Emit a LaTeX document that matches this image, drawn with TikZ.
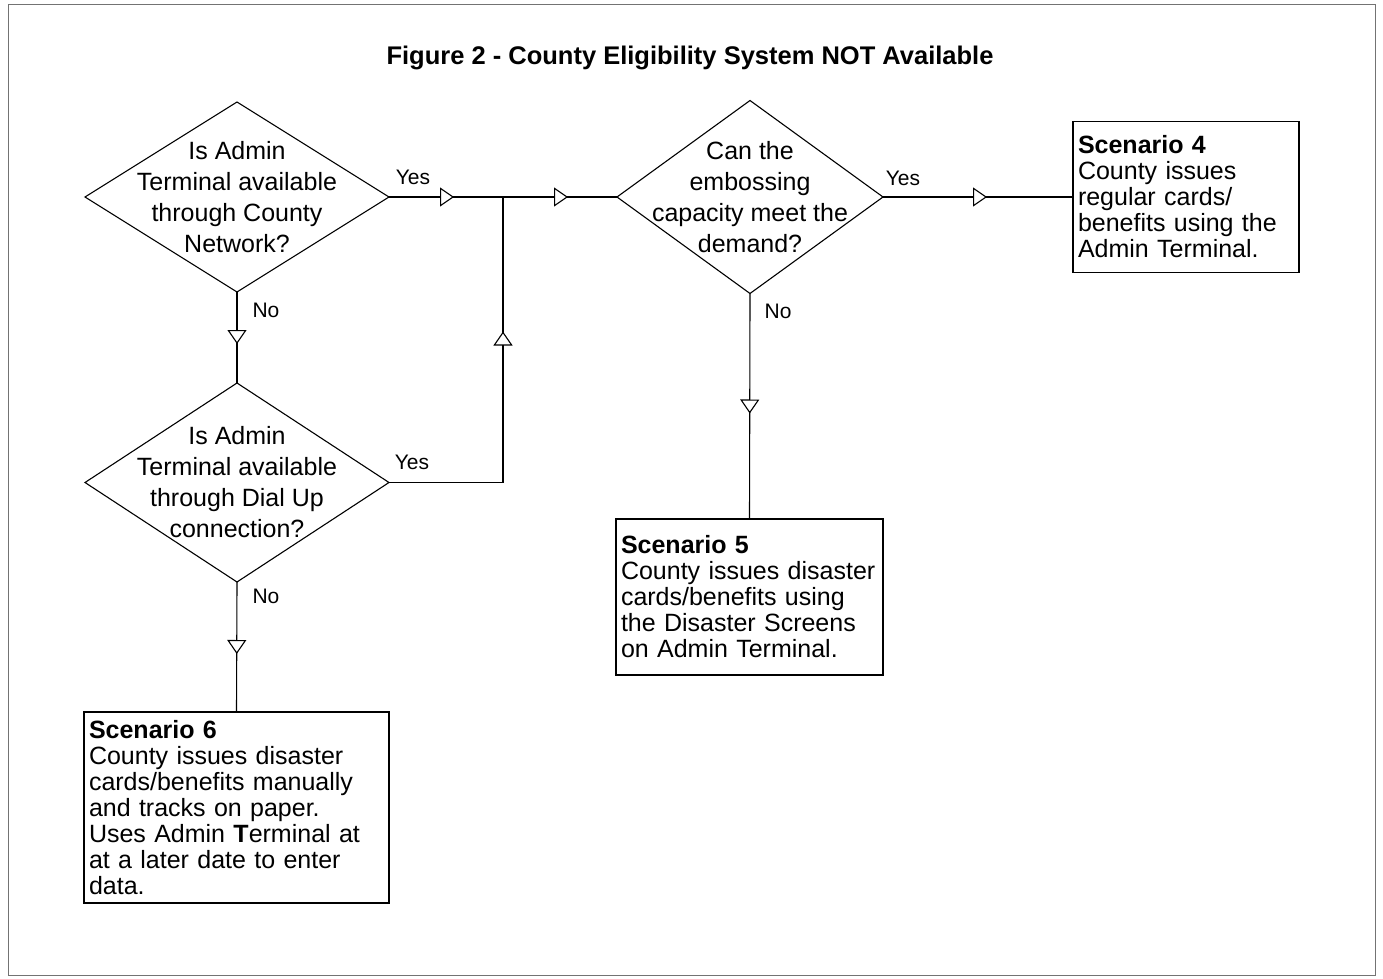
\documentclass[tikz,border=0pt]{standalone}
\usepackage{fontspec}
\setmainfont{Liberation Sans}
\usetikzlibrary{shapes.geometric,arrows.meta,decorations.markings}
\begin{document}
\begin{tikzpicture}[x=1pt,y=-1pt,
  line width=1.1pt,
  dia/.style={shape=diamond, draw, inner sep=0pt, outer sep=0pt},
  dtext/.style={align=center, inner sep=0pt, font=\fontsize{25}{31}\selectfont},
  sbox/.style={draw, rectangle, inner sep=5pt, outer sep=0pt, align=left,
    font=\fontsize{25}{26}\selectfont},
  lbl/.style={font=\fontsize{21}{23}\selectfont, inner sep=0pt},
  flow/.style={postaction={decorate}, decoration={markings,
    mark=at position #1 with {\arrow{Triangle[length=14pt,width=19pt,fill=white]}}}}
]
\useasboundingbox (0,0) rectangle (1383,979);
\draw[draw=black!55, line width=1pt] (8,5) rectangle (1375,975);

\node[font=\bfseries\fontsize{25.5}{28}\selectfont] (title) at (690,58) {Figure 2 - County Eligibility System NOT Available};

% decisions
\node[dia, minimum width=304pt, minimum height=190pt] (d1) at (237,197) {};
\node[dtext] (d1t) at (d1) {Is Admin\\Terminal available\\through County\\Network?};
\node[dia, minimum width=304pt, minimum height=199pt] (d3) at (237,482.5) {};
\node[dtext] (d3t) at (d3) {Is Admin\\Terminal available\\through Dial Up\\connection?};
\node[dia, minimum width=266pt, minimum height=193pt] (d2) at (750,197) {};
\node[dtext] (d2t) at (d2) {Can the\\embossing\\capacity meet the\\demand?};

% scenarios
\node[sbox, minimum width=226pt, minimum height=151pt, text width=216pt] (s4) at (1186,197)
  {\textbf{Scenario 4}\\County issues\\regular cards/\\benefits using the\\Admin Terminal.};
\node[sbox, minimum width=267pt, minimum height=156pt, text width=257pt] (s5) at (749.5,597)
  {\textbf{Scenario 5}\\County issues disaster\\cards/benefits using\\the Disaster Screens\\on Admin Terminal.};
\node[sbox, minimum width=305pt, minimum height=191pt, text width=295pt] (s6) at (236.5,807.5)
  {\textbf{Scenario 6}\\County issues disaster\\cards/benefits manually\\and tracks on paper.\\Uses Admin \textbf{T}erminal at\\at a later date to enter\\data.};

\coordinate (j) at (503,197);
\coordinate (bend) at (503,482.5);

% connectors
\draw[flow=65pt] (d1.east) -- (j);
\draw[flow=65pt] (j) -- (d2.west);
\draw[flow=104pt] (d2.east) -- (s4.west);
\draw[flow=52pt] (d1.south) -- (d3.north);
\draw[flow=265pt] (d3.east) -- (bend) -- (j);
\draw[flow=72pt] (d3.south) -- (s6.north);
\draw[flow=120pt] (d2.south) -- (s5.north);

% labels
\node[lbl] (y1) at (413,177) {Yes};
\node[lbl] (n1) at (266,310) {No};
\node[lbl] (y3) at (412,462) {Yes};
\node[lbl] (n3) at (266,596) {No};
\node[lbl] (y2) at (903,178) {Yes};
\node[lbl] (n2) at (778,311) {No};
\end{tikzpicture}
\end{document}
